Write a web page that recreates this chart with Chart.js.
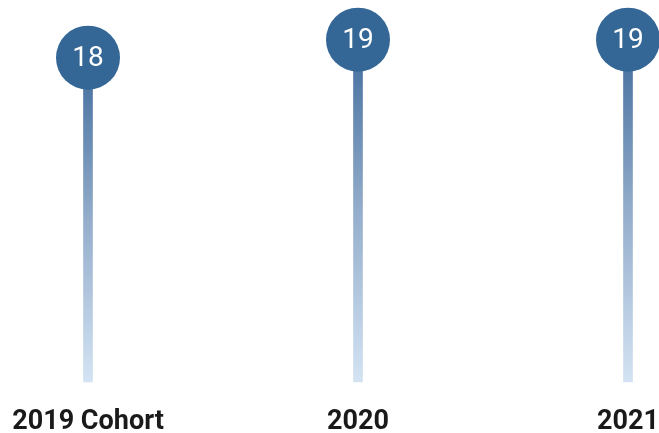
<!DOCTYPE html>
<html>
<head>
<meta charset="utf-8">
<script src="https://cdn.jsdelivr.net/npm/chart.js@4"></script>
<style>
  html, body { margin: 0; padding: 0; background: #fff; }
  #wrap { width: 659px; height: 433px; position: relative; }
</style>
</head>
<body>
<div id="wrap"><canvas id="c"></canvas></div>
<script>
/* Lollipop: valores por cohorte */
const CATEGORIAS = ['2019 Cohort', '2020', '2021'];
const VALORES = [18, 19, 19];

const AZUL = '#356796';
const FUENTE = 'Roboto, "Noto Sans", sans-serif';

// degradado del palito: oscuro arriba, claro abajo
function stemGradient(ctx) {
  const chart = ctx.chart;
  const area = chart.chartArea;
  if (!area) return '#9bb2cf';
  const y = chart.scales.y;
  const top = y.getPixelForValue(ctx.raw ?? 0);
  const bottom = y.getPixelForValue(0);
  const g = chart.ctx.createLinearGradient(0, top, 0, bottom);
  g.addColorStop(0, '#3f6b9b');
  g.addColorStop(0.5, '#94adcb');
  g.addColorStop(1, '#d3e3f3');
  return g;
}

const valueLabels = {
  id: 'valueLabels',
  afterDatasetsDraw(chart) {
    const meta = chart.getDatasetMeta(1);
    const c = chart.ctx;
    c.save();
    c.fillStyle = '#fff';
    c.font = '28px ' + FUENTE;
    c.textAlign = 'center';
    c.textBaseline = 'middle';
    meta.data.forEach((pt, i) => {
      c.fillText(String(VALORES[i]), pt.x, pt.y + 1);
    });
    c.restore();
  },
};

new Chart(document.getElementById('c'), {
  data: {
    labels: CATEGORIAS,
    datasets: [
      {
        type: 'bar', data: VALORES, order: 1, clip: false,
        backgroundColor: stemGradient, barThickness: 9, borderWidth: 0,
      },
      {
        type: 'line', data: VALORES, order: 0, showLine: false, clip: false,
        pointRadius: 32, pointHoverRadius: 32, pointBackgroundColor: AZUL,
        pointBorderWidth: 0, pointHoverBorderWidth: 0, pointStyle: 'circle',
      },
    ],
  },
  options: {
    responsive: true, maintainAspectRatio: false, animation: false,
    events: [],
    layout: { autoPadding: false, padding: { left: 88, right: 31, top: 0, bottom: 0 } },
    plugins: { legend: { display: false }, tooltip: { enabled: false } },
    scales: {
      x: {
        offset: false,
        grid: { display: false, drawTicks: false },
        border: { display: false },
        ticks: { color: '#1a1a1a', padding: 24, font: { family: FUENTE, size: 27, weight: 'bold' }, maxRotation: 0 },
        afterFit(s) {
          s.paddingLeft = 0;
          s.paddingRight = 0;
          s.height = 51;
        },
      },
      y: { display: false, min: 0, max: 21.2 },
    },
  },
  plugins: [valueLabels],
});
</script>
</body>
</html>
